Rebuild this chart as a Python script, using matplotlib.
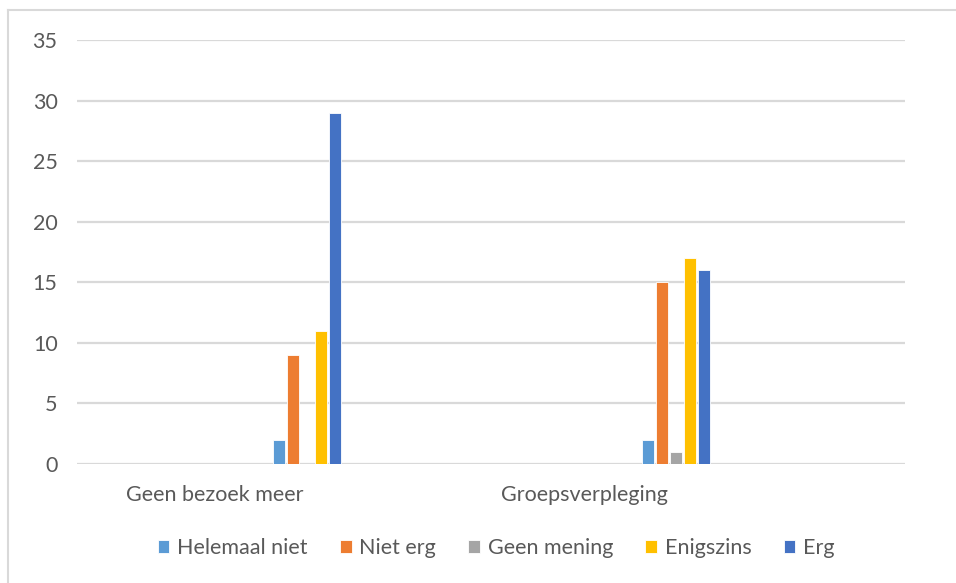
import numpy as np
import matplotlib.pyplot as plt

categories = ["Geen bezoek meer", "Groepsverpleging"]
series = ["Helemaal niet", "Niet erg", "Geen mening", "Enigszins", "Erg"]
helemaal_niet = [2, 2]
niet_erg = [9, 15]
geen_mening = [0, 1]
enigszins = [11, 17]
erg = [29, 16]
values = [helemaal_niet, niet_erg, geen_mening, enigszins, erg]
colors = ["#5B9BD5", "#ED7D31", "#A5A5A5", "#FFC000", "#4472C4"]

plt.rcParams['font.family'] = ['Lato', 'DejaVu Sans']
text_color = "#595959"

W, H = 956, 583
fig = plt.figure(figsize=(W / 100, H / 100), dpi=100)
ax = fig.add_axes([77 / W, (H - 464) / H, (905 - 77) / W, (464 - 40) / H])

# category spacing in px is ~369; bars sit to the right of the category centre
x = np.arange(len(categories))
unit = 369.0
step = 14 / unit
width = 12 / unit
first = 64 / unit
for i, (name, vals) in enumerate(zip(series, values)):
    ax.bar(x + first + i * step, vals, width, color=colors[i], label=name,
           edgecolor="white", linewidth=0.6, zorder=3)

ax.set_xlim(-(215 - 77) / unit, (905 - 215) / unit)
ax.set_ylim(0, 35)
ax.set_yticks(np.arange(0, 36, 5))
ax.set_xticks(x)
ax.set_xticklabels(categories)
ax.yaxis.grid(True, color="#D9D9D9", linewidth=1.6, zorder=0)
ax.tick_params(axis="both", length=0, labelsize=15.5, labelcolor=text_color)
ax.tick_params(axis="x", pad=15)
ax.tick_params(axis="y", pad=14)
for s in ax.spines.values():
    s.set_visible(False)

fig.legend(loc="center", bbox_to_anchor=(496 / W, (H - 548) / H), ncol=5,
           frameon=False, fontsize=15.5, labelcolor=text_color,
           handlelength=0.55, handleheight=0.55, handletextpad=0.35,
           columnspacing=1.5)

# chart area border (top and left visible)
fig.add_artist(plt.Line2D([8 / W, 1], [1 - 10 / H, 1 - 10 / H], color="#D9D9D9",
                          linewidth=1.5, transform=fig.transFigure))
fig.add_artist(plt.Line2D([8 / W, 8 / W], [0, 1 - 10 / H], color="#D9D9D9",
                          linewidth=1.5, transform=fig.transFigure))

fig.savefig("out.png", dpi=100)
